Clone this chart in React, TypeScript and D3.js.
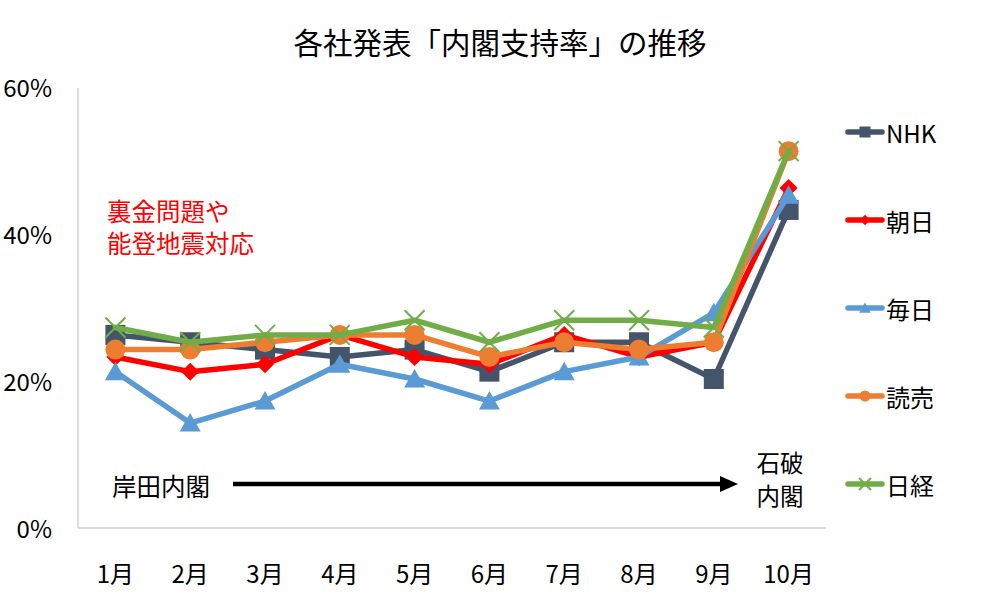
import React from 'react';
import * as d3 from 'd3';

const MONTHS = ['1月', '2月', '3月', '4月', '5月', '6月', '7月', '8月', '9月', '10月'];
const Y_TICKS = [0, 20, 40, 60];

const NHK = [26, 25, 24, 23, 24, 21, 25, 25, 20, 43];
const ASAHI = [23, 21, 22, 26, 23, 22, 26, 23, 25, 46];
const MAINICHI = [21, 14, 17, 22, 20, 17, 21, 23, 29, 45];
const YOMIURI = [24, 24, 25, 26, 26, 23, 25, 24, 25, 51];
const NIKKEI = [27, 25, 26, 26, 28, 25, 28, 28, 27, 51];

const SERIES = [
  { name: 'NHK', values: NHK, color: '#44546a', marker: 'square' },
  { name: '朝日', values: ASAHI, color: '#ff0000', marker: 'diamond' },
  { name: '毎日', values: MAINICHI, color: '#5b9bd5', marker: 'triangle' },
  { name: '読売', values: YOMIURI, color: '#ed7d31', marker: 'circle' },
  { name: '日経', values: NIKKEI, color: '#70ad47', marker: 'x' },
];

const W = 1000;
const H = 601;
const FONT = '"Noto Sans CJK JP", "Noto Sans", sans-serif';

const x = d3.scaleBand<string>().domain(MONTHS).range([78, 826]);
const y = d3.scaleLinear().domain([0, 60]).range([526, 85]);

function Marker({ kind, cx, cy, color, s }: { kind: string; cx: number; cy: number; color: string; s: number }) {
  const h = s / 2;
  if (kind === 'square') {
    return <rect x={cx - h} y={cy - h} width={s} height={s} fill={color} />;
  }
  if (kind === 'circle') {
    return <circle cx={cx} cy={cy} r={h} fill={color} />;
  }
  if (kind === 'diamond') {
    const d = h * 0.95;
    return <path d={`M${cx},${cy - d}L${cx + d},${cy}L${cx},${cy + d}L${cx - d},${cy}Z`} fill={color} />;
  }
  if (kind === 'triangle') {
    return <path d={`M${cx},${cy - h}L${cx + h * 1.05},${cy + h * 0.85}L${cx - h * 1.05},${cy + h * 0.85}Z`} fill={color} />;
  }
  return (
    <g stroke={color} strokeWidth={2}>
      <line x1={cx - h} y1={cy - h} x2={cx + h} y2={cy + h} />
      <line x1={cx - h} y1={cy + h} x2={cx + h} y2={cy - h} />
    </g>
  );
}

export default function App() {
  const line = d3.line<number>()
    .x((_, i) => (x(MONTHS[i]) ?? 0) + x.bandwidth() / 2)
    .y((v) => y(v));

  return (
    <svg width={W} height={H} viewBox={`0 0 ${W} ${H}`}
      style={{ position: 'absolute', left: 0, top: 0, background: '#fff', fontFamily: FONT }}>
      <rect width={W} height={H} fill="#fff" />
      <text x={500} y={41} dominantBaseline="central" textAnchor="middle" fontSize={29.5} fill="#000">各社発表「内閣支持率」の推移</text>

      {/* axes */}
      <line x1={78} y1={88} x2={78} y2={528} stroke="#d0d0d0" strokeWidth={1.5} />
      <line x1={78} y1={528} x2={826} y2={528} stroke="#d0d0d0" strokeWidth={1.5} />
      {Y_TICKS.map((t) => (
        <text key={t} x={52} y={y(t) + 1} dominantBaseline="central" textAnchor="end" fontSize={24} fill="#000">{t}%</text>
      ))}
      {MONTHS.map((m) => (
        <text key={m} x={(x(m) ?? 0) + x.bandwidth() / 2} y={572} dominantBaseline="central" textAnchor="middle" fontSize={24} fill="#000">{m}</text>
      ))}

      {/* series */}
      {SERIES.map((s) => (
        <g key={s.name}>
          <path d={line(s.values) ?? ''} fill="none" stroke={s.color} strokeWidth={5.5} strokeLinejoin="round" strokeLinecap="round" />
          {s.values.map((v, i) => (
            <Marker key={i} kind={s.marker} cx={(x(MONTHS[i]) ?? 0) + x.bandwidth() / 2} cy={y(v)} color={s.color}
              s={s.marker === 'diamond' ? 19 : 20} />
          ))}
        </g>
      ))}

      {/* annotations */}
      <text fontSize={24.5} fill="#ff0000">
        <tspan x={107} y={221}>裏金問題や</tspan>
        <tspan x={107} y={253}>能登地震対応</tspan>
      </text>
      <text x={112} y={485} dominantBaseline="central" fontSize={24.5} fill="#000">岸田内閣</text>
      <line x1={233} y1={484} x2={722} y2={484} stroke="#000" strokeWidth={4.5} />
      <path d="M738,484L720,476L720,492Z" fill="#000" />
      <text textAnchor="middle" fontSize={23.5} fill="#000">
        <tspan x={780} y={472}>石破</tspan>
        <tspan x={780} y={505}>内閣</tspan>
      </text>

      {/* legend */}
      {SERIES.map((s, i) => {
        const ly = 132 + i * 88;
        return (
          <g key={s.name}>
            <line x1={848} y1={ly} x2={882} y2={ly} stroke={s.color} strokeWidth={5.5} strokeLinecap="round" />
            <Marker kind={s.marker} cx={865} cy={ly} color={s.color} s={s.marker === 'x' ? 12 : 11} />
            <text x={886} y={ly} dominantBaseline="central" fontSize={24} fill="#000">{s.name}</text>
          </g>
        );
      })}
    </svg>
  );
}
